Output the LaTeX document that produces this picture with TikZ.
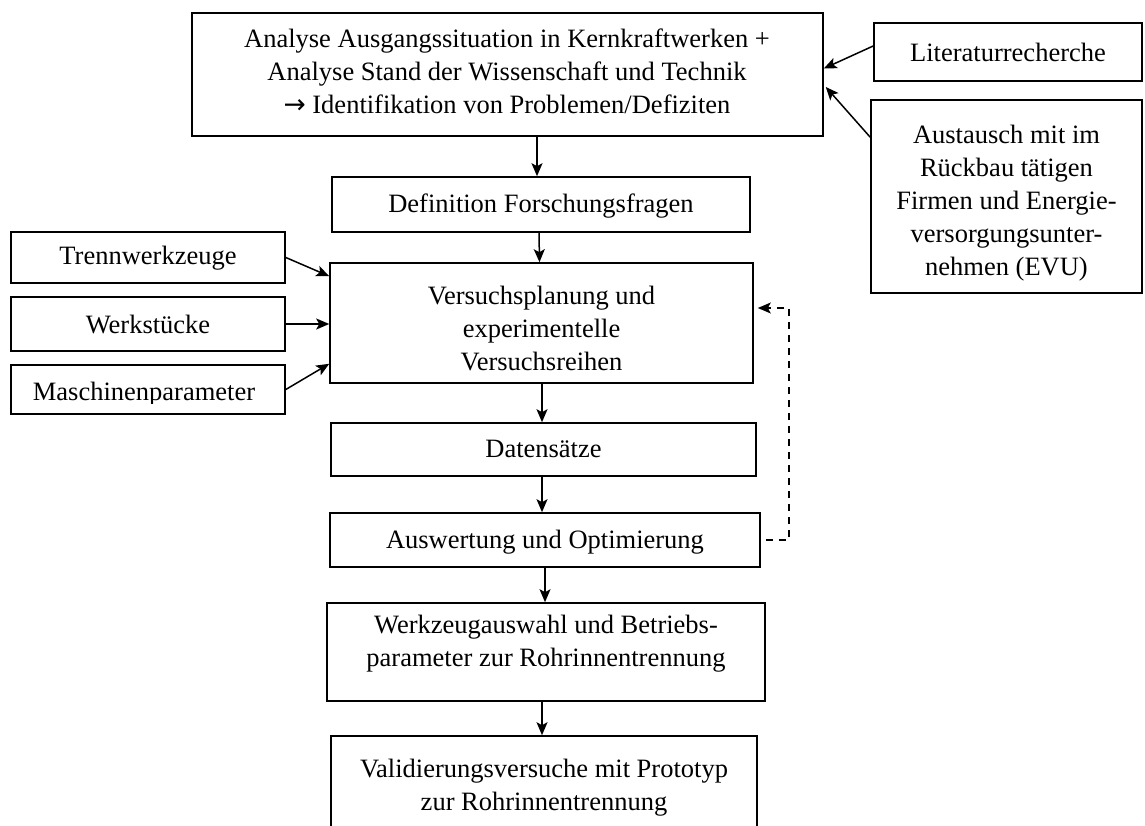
\documentclass[tikz,border=0pt]{standalone}
\usepackage{fontspec}
\setmainfont{Liberation Serif}
\newfontfamily\arrowfont{DejaVu Sans}
\usetikzlibrary{arrows.meta,calc}
\begin{document}
\begin{tikzpicture}[x=1pt,y=-1pt,
  font=\fontsize{26.5}{33}\selectfont,
  box/.style={draw,line width=1.6pt,inner sep=0pt,minimum width=#1},
  txt/.style={inner sep=0pt,align=center},
  one/.style={inner sep=0pt,text height=18pt,text depth=6pt},
  arr/.style={line width=1.5pt,-{Stealth[length=13pt,width=11pt,inset=3pt]}}]
\useasboundingbox (0,0) rectangle (1145,826);
% boxes
\node[box=631pt,minimum height=123pt] (A) at (507.5,74.5) {};
\node[box=268pt,minimum height=58pt] (Lit) at (1008,52) {};
\node[box=271pt,minimum height=193pt] (Aus) at (1006.5,196.5) {};
\node[box=418pt,minimum height=55pt] (Def) at (541,204.5) {};
\node[box=274pt,minimum height=51pt] (Trenn) at (148,257.5) {};
\node[box=274pt,minimum height=54pt] (Werk) at (148,324) {};
\node[box=274pt,minimum height=49pt] (Masch) at (148,389.5) {};
\node[box=423pt,minimum height=120pt] (Vers) at (541.5,323) {};
\node[box=425pt,minimum height=53pt] (Daten) at (543.5,449.5) {};
\node[box=430pt,minimum height=54pt] (Ausw) at (545,540) {};
\node[box=438pt,minimum height=98pt] (Wz) at (546,652) {};
\node[box=426pt,minimum height=130pt] (Val) at (544,801) {};
% texts
\node[txt] (tA) at (507,71) {Analyse Ausgangssituation in Kernkraftwerken +\\Analyse Stand der Wissenschaft und Technik\\{\arrowfont →} Identifikation von Problemen/Defiziten};
\node[one] (tLit) at (1008,56) {Literaturrecherche};
\node[txt] (tAus) at (1006.5,203) {Austausch mit im\\Rückbau tätigen\\Firmen und Energie-\\versorgungsunter-\\nehmen (EVU)};
\node[one] (tDef) at (541,207) {Definition Forschungsfragen};
\node[one] (tTrenn) at (148,259) {Trennwerkzeuge};
\node[one] (tWerk) at (148,327) {Werkstücke};
\begin{scope}
\clip (11,365) rectangle (285,403);
\node[one] (tMasch) at (144,394) {Maschinenparameter};
\end{scope}
\node[txt] (tVers) at (541.5,329) {Versuchsplanung und\\experimentelle\\Versuchsreihen};
\node[one] (tDaten) at (543.5,451) {Datensätze};
\node[one] (tAusw) at (545,542) {Auswertung und Optimierung};
\node[txt] (tWz) at (546,643.5) {Werkzeugauswahl und Betriebs-\\parameter zur Rohrinnentrennung};
\node[txt] (tVal) at (544,788) {Validierungsversuche mit Prototyp\\zur Rohrinnentrennung};
% connectors
\draw[arr] ($(A.south -| Def.north)+(-4,0)$) -- ($(Def.north)+(-4,0)$);
\draw[arr] ($(Def.south)+(-2,0)$) -- ($(Vers.north)+(-2,0)$);
\draw[arr] ($(Vers.south)+(0.5,0)$) -- ($(Vers.south |- Daten.north)+(0.5,0)$);
\draw[arr] ($(Daten.south)+(-1.5,0)$) -- ($(Daten.south |- Ausw.north)+(-1.5,0)$);
\draw[arr] (Ausw.south) -- (Ausw.south |- Wz.north);
\draw[arr] ($(Wz.south)+(-4,0)$) -- ($(Wz.south |- Val.north)+(-4,0)$);
\draw[arr] (Trenn.east) -- ($(Vers.north west)+(0,14)$);
\draw[arr] (Werk.east) -- (Werk.east -| Vers.west);
\draw[arr] (Masch.east) -- ($(Vers.south west)+(0,-20)$);
\draw[arr] ($(Lit.west)+(0,-6)$) -- ($(A.east)+(0,-6)$);
\draw[arr] ($(Aus.north west)+(0,38)$) -- ($(A.east)+(2,12.5)$);
\coordinate (fb) at (789,308);
\draw[arr,dash pattern=on 7pt off 6pt] ($(Ausw.east)+(5,0)$) -| (fb) -- ($(Vers.east)+(4,-15)$);
\end{tikzpicture}
\end{document}
